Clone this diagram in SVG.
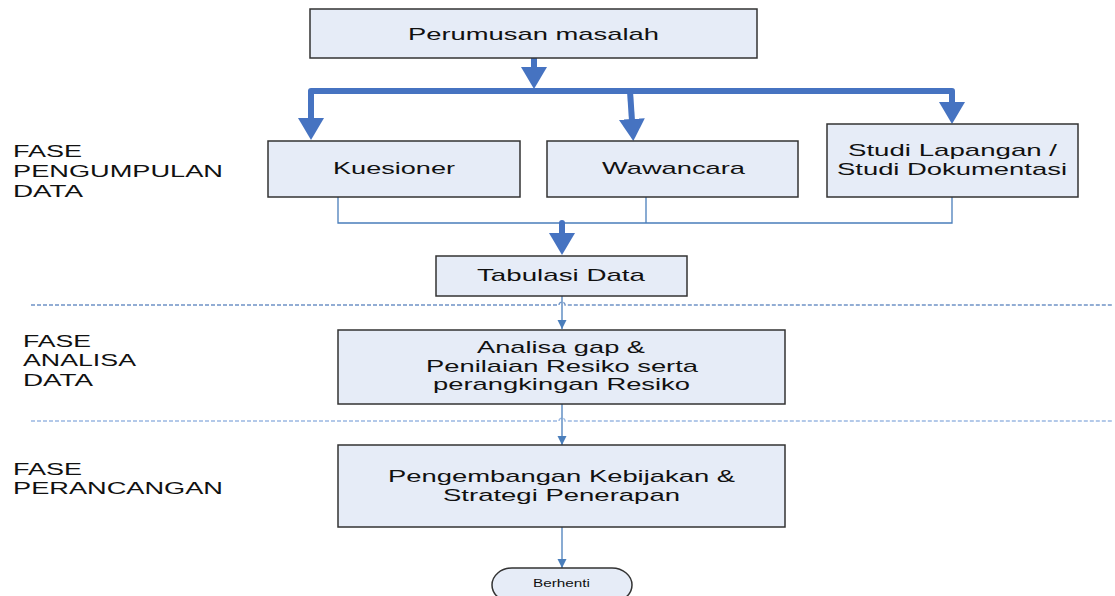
<svg xmlns="http://www.w3.org/2000/svg" width="1115" height="596" viewBox="0 0 1115 596">
<style>
.box{fill:#e6ecf7;stroke:#333;stroke-width:1.5}
.t{font-family:"Liberation Sans",Arial,sans-serif;font-size:17px;fill:#111;text-anchor:middle}
.ph{font-family:"Liberation Sans",Arial,sans-serif;font-size:16px;fill:#111}
.thick{fill:none;stroke:#4673c1;stroke-width:6;stroke-linejoin:round}
.thin{fill:none;stroke:#4a7ebb;stroke-width:1.3}
.dash1{fill:none;stroke:#6f93c6;stroke-width:1.3;stroke-dasharray:4 2}
.dash2{fill:none;stroke:#9ab8e2;stroke-width:1.3;stroke-dasharray:4 2}
</style>
<defs>
<marker id="big" markerUnits="userSpaceOnUse" markerWidth="24" markerHeight="26" refX="2" refY="13" orient="auto">
<path d="M0,0 L22,13 L0,26 Z" fill="#4673c1"/>
</marker>
<marker id="small" markerUnits="userSpaceOnUse" markerWidth="10" markerHeight="10" refX="9" refY="4.5" orient="auto">
<path d="M0,0 L9,4.5 L0,9 Z" fill="#4a7ebb"/>
</marker>
</defs>
<rect width="1115" height="596" fill="#fff"/>
<g id="phases">
<text class="ph" x="13" y="157" textLength="69" lengthAdjust="spacingAndGlyphs">FASE</text>
<text class="ph" x="13" y="177" textLength="210" lengthAdjust="spacingAndGlyphs">PENGUMPULAN</text>
<text class="ph" x="13" y="197" textLength="70" lengthAdjust="spacingAndGlyphs">DATA</text>
<text class="ph" x="23" y="347" textLength="68" lengthAdjust="spacingAndGlyphs">FASE</text>
<text class="ph" x="23" y="366" textLength="113" lengthAdjust="spacingAndGlyphs">ANALISA</text>
<text class="ph" x="23" y="386" textLength="70" lengthAdjust="spacingAndGlyphs">DATA</text>
<text class="ph" x="13" y="475" textLength="69" lengthAdjust="spacingAndGlyphs">FASE</text>
<text class="ph" x="13" y="494" textLength="210" lengthAdjust="spacingAndGlyphs">PERANCANGAN</text>
</g>
<g id="separators">
<path class="dash1" d="M31,305 H559 A3,3 0 0 1 565,305 H1113"/>
<path class="dash2" d="M31,421 H559 A3,3 0 0 1 565,421 H1113"/>
</g>
<g id="connectors">
<path class="thick" d="M534,58 V69" marker-end="url(#big)" style="stroke-linecap:round"/>
<path class="thick" d="M952,104 V91 H311 V120" marker-end="url(#big)"/>
<path class="thick" d="M952,91 V104" marker-end="url(#big)"/>
<path class="thick" d="M630,91 L632,121" marker-end="url(#big)"/>
<path class="thin" d="M338,197 V223 H952 V197"/>
<path class="thin" d="M646,197 V223"/>
<path class="thick" d="M562,223 V235" marker-end="url(#big)" style="stroke-linecap:round"/>
<path class="thin" d="M562,296 V329" marker-end="url(#small)"/>
<path class="thin" d="M562,404 V445" marker-end="url(#small)"/>
<path class="thin" d="M562,527 V568" marker-end="url(#small)"/>
</g>
<g id="perumusan">
<rect class="box" x="310" y="9" width="447" height="49"/>
<text class="t" x="533.5" y="40" textLength="251" lengthAdjust="spacingAndGlyphs">Perumusan masalah</text>
</g>
<g id="kuesioner">
<rect class="box" x="268" y="141" width="252" height="56"/>
<text class="t" x="394" y="174" textLength="122" lengthAdjust="spacingAndGlyphs">Kuesioner</text>
</g>
<g id="wawancara">
<rect class="box" x="547" y="141" width="251" height="56"/>
<text class="t" x="673.5" y="174" textLength="143" lengthAdjust="spacingAndGlyphs">Wawancara</text>
</g>
<g id="studi">
<rect class="box" x="827" y="124" width="251" height="73"/>
<text class="t" x="952.5" y="156" textLength="209" lengthAdjust="spacingAndGlyphs">Studi Lapangan /</text>
<text class="t" x="952" y="175" textLength="230" lengthAdjust="spacingAndGlyphs">Studi Dokumentasi</text>
</g>
<g id="tabulasi">
<rect class="box" x="436" y="256" width="251" height="40"/>
<text class="t" x="561" y="281" textLength="168" lengthAdjust="spacingAndGlyphs">Tabulasi Data</text>
</g>
<g id="analisa">
<rect class="box" x="338" y="330" width="447" height="74"/>
<text class="t" x="561" y="353" textLength="168" lengthAdjust="spacingAndGlyphs">Analisa gap &amp;</text>
<text class="t" x="562" y="372" textLength="272" lengthAdjust="spacingAndGlyphs">Penilaian Resiko serta</text>
<text class="t" x="561.5" y="390" textLength="257" lengthAdjust="spacingAndGlyphs">perangkingan Resiko</text>
</g>
<g id="pengembangan">
<rect class="box" x="338" y="445" width="447" height="82"/>
<text class="t" x="561.5" y="482" textLength="347" lengthAdjust="spacingAndGlyphs">Pengembangan Kebijakan &amp;</text>
<text class="t" x="561.5" y="501" textLength="237" lengthAdjust="spacingAndGlyphs">Strategi Penerapan</text>
</g>
<g id="berhenti">
<rect class="box" x="492" y="568" width="140" height="34" rx="20" ry="17"/>
<text class="t" x="561.5" y="587" style="font-size:10px" textLength="57" lengthAdjust="spacingAndGlyphs">Berhenti</text>
</g>
</svg>
